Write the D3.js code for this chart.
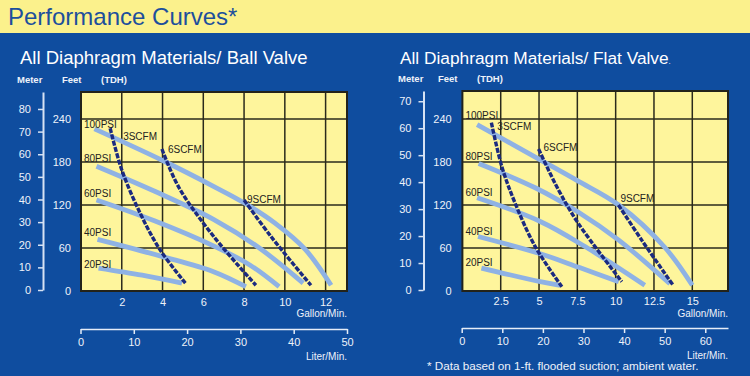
<!DOCTYPE html>
<html>
<head>
<meta charset="utf-8">
<script src="https://cdn.jsdelivr.net/npm/d3@7"></script>
<style>
body { margin: 0; background: #0f4d9f; }
svg { display: block; font-family: "Liberation Sans", Arial, sans-serif; }
</style>
</head>
<body>
<svg id="chart" width="750" height="376"></svg>
<script>
// ---- data: [gallon/min, feet] ----
var psiNames = ["20PSI", "40PSI", "60PSI", "80PSI", "100PSI"];
var scfmNames = ["3SCFM", "6SCFM", "9SCFM"];

// ball valve
var ballPsi20  = [[0.86, 32], [3.0, 22], [4.95, 11]];
var ballPsi40  = [[0.81, 72], [4.0, 48], [6.5, 27], [8.09, 6]];
var ballPsi60  = [[0.76, 127], [3.6, 98], [6.5, 63], [8.3, 36], [9.72, 6]];
var ballPsi80  = [[0.76, 174], [3.7, 138], [6.5, 100], [8.7, 61], [10.9, 11]];
var ballPsi100 = [[0.66, 226], [4.0, 182], [6.5, 146], [8.0, 123], [9.5, 95], [11.0, 58], [12.27, 8]];
var ballScfm3  = [[1.43, 227], [2.0, 169], [2.91, 108], [3.89, 57], [5.12, 11]];
var ballScfm6  = [[3.97, 198], [4.79, 145], [6.51, 76], [8.58, 8]];
var ballScfm9  = [[8.0, 127], [9.32, 76], [11.28, 8]];

// flat valve
var flatPsi20  = [[1.24, 32], [5.08, 13], [6.38, 8]];
var flatPsi40  = [[1.02, 76], [5.08, 52], [7.6, 33], [10.2, 13]];
var flatPsi60  = [[0.96, 130], [5.08, 97], [8.0, 62], [11.9, 8]];
var flatPsi80  = [[1.06, 178], [4.75, 144], [7.5, 111], [10.2, 71], [13.54, 10]];
var flatPsi100 = [[0.96, 232], [5.08, 183], [7.5, 154], [10.2, 120], [13.2, 61], [15.0, 8]];
var flatScfm3  = [[1.89, 235], [2.58, 173], [3.45, 122], [4.75, 62], [6.49, 6]];
var flatScfm6  = [[4.97, 198], [6.27, 141], [7.57, 94], [10.4, 13]];
var flatScfm9  = [[10.18, 120], [11.7, 71], [13.75, 8]];

// ticks
var ballGpmTicks = [2, 4, 6, 8, 10, 12];
var flatGpmTicks = [2.5, 5, 7.5, 10, 12.5, 15];
var feetTicks = [0, 60, 120, 180, 240];
var ballMeterTicks = [0, 10, 20, 30, 40, 50, 60, 70, 80];
var flatMeterTicks = [0, 10, 20, 30, 40, 50, 60, 70];
var ballLiterTicks = [0, 10, 20, 30, 40, 50];
var flatLiterTicks = [0, 10, 20, 30, 40, 50, 60];

var svg = d3.select("#chart");
var W = 750, H = 376;
var txt = "#eef2fa";

svg.append("rect").attr("width", W).attr("height", H).attr("fill", "#0f4d9f");
svg.append("rect").attr("width", W).attr("height", 33).attr("fill", "#fbf18c");
svg.append("text").attr("x", 8).attr("y", 25)
    .attr("font-size", 24).attr("fill", "#1d4f9c")
    .text("Performance Curves*");

function drawPanel(p) {
    var g = svg.append("g");
    var x = d3.scaleLinear().domain(p.gpmDomain).range([p.left, p.right]);
    var y = d3.scaleLinear().domain(p.feetDomain).range([p.bottom, p.top]);
    var m = d3.scaleLinear().domain(p.meterDomain).range([p.meterBottom, p.top]);
    var l = d3.scaleLinear().domain(p.literDomain).range(p.literRange);

    // titles
    var t = g.append("text").attr("x", p.titleX).attr("y", 64)
        .attr("font-size", p.titleSize).attr("fill", "#ffffff").text(p.title);
    if (p.titleDot) t.append("tspan").attr("font-size", 8).text(".");
    [["Meter", p.hdr[0]], ["Feet", p.hdr[1]], ["(TDH)", p.hdr[2]]].forEach(function (h) {
        g.append("text").attr("x", h[1]).attr("y", p.hdrY)
            .attr("font-size", 9.5).attr("font-weight", "bold").attr("fill", txt).text(h[0]);
    });

    // plot box and grid
    g.append("rect").attr("x", p.left).attr("y", p.top)
        .attr("width", p.right - p.left).attr("height", p.bottom - p.top)
        .attr("fill", "#fef59c");
    g.selectAll(".vg").data(p.gpmTicks).enter().append("line")
        .attr("x1", d => x(d)).attr("x2", d => x(d))
        .attr("y1", p.top).attr("y2", p.bottom)
        .attr("stroke", "#2a2a1c").attr("stroke-width", 1.5);
    g.selectAll(".hg").data(feetTicks.slice(1)).enter().append("line")
        .attr("x1", p.left).attr("x2", p.right)
        .attr("y1", d => y(d)).attr("y2", d => y(d))
        .attr("stroke", "#2a2a1c").attr("stroke-width", 1.5);
    g.append("rect").attr("x", p.left).attr("y", p.top)
        .attr("width", p.right - p.left).attr("height", p.bottom - p.top)
        .attr("fill", "none").attr("stroke", "#23231a").attr("stroke-width", 2);

    // curves
    var line = d3.line().x(d => x(d[0])).y(d => y(d[1])).curve(d3.curveCatmullRom.alpha(0.5));
    g.selectAll(".psi").data(p.psi).enter().append("path")
        .attr("d", line).attr("fill", "none")
        .attr("stroke", "#8fb2e4").attr("stroke-width", 4.8);
    g.selectAll(".scfm").data(p.scfm).enter().append("path")
        .attr("d", line).attr("fill", "none")
        .attr("stroke", "#1b2a80").attr("stroke-width", 3.4)
        .attr("stroke-dasharray", "5,1.5");

    // curve labels
    p.psi.forEach(function (s, i) {
        g.append("text").attr("x", p.left + 3).attr("y", y(s[0][1]) - p.psiDy[i])
            .attr("font-size", 10).attr("fill", "#222").text(psiNames[i]);
    });
    p.scfm.forEach(function (s, i) {
        g.append("text").attr("x", x(s[0][0]) + p.scfmOff[i][0]).attr("y", y(s[0][1]) + p.scfmOff[i][1])
            .attr("font-size", 10).attr("fill", "#222").text(scfmNames[i]);
    });

    // gallon axis labels
    var gx = g.append("g").attr("transform", "translate(0," + p.bottom + ")")
        .call(d3.axisBottom(x).tickValues(p.gpmTicks).tickFormat(d => String(d)).tickSize(0).tickPadding(p.gpmPad));
    gx.select(".domain").remove();
    gx.selectAll("text").attr("font-size", 11).attr("fill", txt).attr("font-family", null);
    g.append("text").attr("x", p.right).attr("y", 316.5).attr("text-anchor", "end")
        .attr("font-size", 10).attr("fill", txt).text("Gallon/Min.");

    // feet axis labels
    var gy = g.append("g").attr("transform", "translate(" + p.feetX + ",0)")
        .call(d3.axisLeft(y).tickValues(feetTicks).tickSize(0).tickPadding(0));
    gy.select(".domain").remove();
    gy.selectAll("text").attr("font-size", 11).attr("fill", txt).attr("font-family", null);

    // meter axis
    var gm = g.append("g").attr("transform", "translate(" + p.meterX + ",0)")
        .call(d3.axisLeft(m).tickValues(p.meterTicks).tickSize(5).tickSizeOuter(0).tickPadding(7));
    gm.select(".domain").attr("stroke", "#d6e2f4").attr("stroke-width", 2);
    gm.selectAll(".tick line").attr("stroke", "#d6e2f4").attr("stroke-width", 1.5);
    gm.selectAll("text").attr("font-size", 11).attr("fill", txt).attr("font-family", null);

    // liter axis
    var gl = g.append("g").attr("transform", "translate(0," + p.literY + ")")
        .call(d3.axisBottom(l).tickValues(p.literTicks).tickSize(5).tickSizeOuter(0).tickPadding(4));
    gl.select(".domain").attr("stroke", "#e6edf8").attr("stroke-width", 1.5);
    gl.selectAll(".tick line").attr("stroke", "#e6edf8").attr("stroke-width", 1.5);
    gl.selectAll("text").attr("font-size", 11).attr("fill", txt).attr("font-family", null);
    g.append("text").attr("x", p.right).attr("y", p.literY + 30.5).attr("text-anchor", "end")
        .attr("font-size", 10).attr("fill", txt).text("Liter/Min.");
}

drawPanel({
    title: "All Diaphragm Materials/ Ball Valve", titleX: 20, titleSize: 18.5, titleDot: false,
    hdr: [17, 62, 101], hdrY: 83,
    left: 81, right: 347, top: 92, bottom: 291,
    gpmDomain: [0, 13.05], feetDomain: [0, 277.5],
    meterDomain: [0, 87.5], meterBottom: 290, meterX: 43,
    literDomain: [0, 50], literRange: [80.5, 347], literY: 329,
    feetX: 71, gpmPad: 7,
    gpmTicks: ballGpmTicks, meterTicks: ballMeterTicks, literTicks: ballLiterTicks,
    psi: [ballPsi20, ballPsi40, ballPsi60, ballPsi80, ballPsi100],
    scfm: [ballScfm3, ballScfm6, ballScfm9],
    psiDy: [0, 3, 3, 4, 1],
    scfmOff: [[13, 12], [6, 4], [3, 3]]
});

drawPanel({
    title: "All Diaphragm Materials/ Flat Valve", titleX: 400, titleSize: 17.3, titleDot: true,
    hdr: [398, 438, 477], hdrY: 82,
    left: 462.4, right: 728, top: 91, bottom: 291,
    gpmDomain: [0, 17.33], feetDomain: [0, 279],
    meterDomain: [0, 73.8], meterBottom: 290, meterX: 423.5,
    literDomain: [0, 65.6], literRange: [461.7, 728], literY: 328,
    feetX: 451.7, gpmPad: 6,
    gpmTicks: flatGpmTicks, meterTicks: flatMeterTicks, literTicks: flatLiterTicks,
    psi: [flatPsi20, flatPsi40, flatPsi60, flatPsi80, flatPsi100],
    scfm: [flatScfm3, flatScfm6, flatScfm9],
    psiDy: [2, 2, 2, 3, 6],
    scfmOff: [[6, 7], [5, 2], [2, -2.5]]
});

svg.append("text").attr("x", 427).attr("y", 369.5)
    .attr("font-size", 11.7).attr("fill", txt)
    .text("* Data based on 1-ft. flooded suction; ambient water.");
</script>
</body>
</html>
